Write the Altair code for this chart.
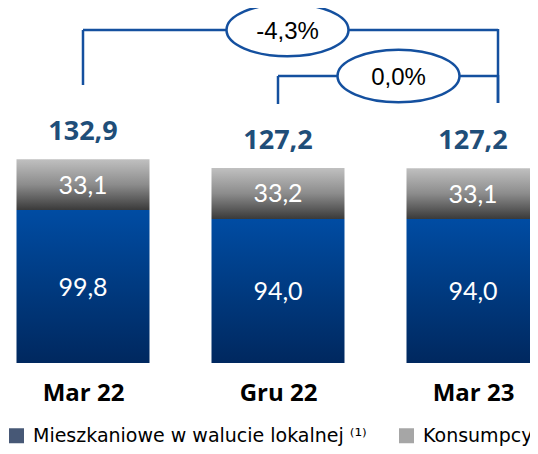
import altair as alt
import pandas as pd

# ---- data ----
categories = ["Mar 22", "Gru 22", "Mar 23"]
mortgage = [99.8, 94.0, 94.0]
consumer = [33.1, 33.2, 33.1]
totals = [132.9, 127.2, 127.2]
series = ["Mieszkaniowe w walucie lokalnej \u207d\u00b9\u207e", "Konsumpcyjne"]
legend_colors = ["#475876", "#a6a6a6"]
cmp_from = ["Mar 22", "Gru 22"]
cmp_to = ["Mar 23", "Mar 23"]
cmp_labels = ["-4,3%", "0,0%"]

df = pd.DataFrame({
    "cat": categories,
    "idx": list(range(len(categories))),
    "mortgage": mortgage,
    "consumer": consumer,
    "total": totals,
})

fmt = "replace(format({v}, '.1f'), '.', ',')"

xscale = alt.Scale(domain=[-0.3846, 2.2923], nice=False, zero=False, padding=0)
yscale = alt.Scale(domain=[0, 231.6], nice=False, zero=True, padding=0)

label_expr = "[" + ",".join("'%s'" % c for c in categories) + "][datum.value]"
xaxis = alt.Axis(values=list(range(len(categories))), labelExpr=label_expr, title=None,
                 domain=False, ticks=False, tickSize=0, grid=False, labelFlush=False,
                 labelOverlap=False, labelFont="Open Sans", labelFontWeight="bold",
                 labelFontSize=24, labelColor="black", labelPadding=18)

blue_grad = alt.Gradient(gradient="linear", x1=0, x2=0, y1=0, y2=1,
                         stops=[alt.GradientStop(color="#004ca3", offset=0),
                                alt.GradientStop(color="#003a80", offset=0.5),
                                alt.GradientStop(color="#00285f", offset=1)])
gray_grad = alt.Gradient(gradient="linear", x1=0, x2=0, y1=0, y2=1,
                         stops=[alt.GradientStop(color="#c0c0c0", offset=0),
                                alt.GradientStop(color="#8c8c8c", offset=0.5),
                                alt.GradientStop(color="#3a3a3a", offset=1)])

base = alt.Chart(df).transform_calculate(
    top="datum.mortgage + datum.consumer",
    mid_m="datum.mortgage / 2",
    mid_c="datum.mortgage + datum.consumer / 2",
    lab_m=fmt.format(v="datum.mortgage"),
    lab_c=fmt.format(v="datum.consumer"),
    lab_t=fmt.format(v="datum.total"),
)

X = alt.X("idx:Q", scale=xscale, axis=xaxis)

blue = base.mark_bar(width=133, fill=blue_grad, opacity=1, orient="vertical").encode(
    x=X, y=alt.Y("mortgage:Q", scale=yscale, axis=None), y2=alt.datum(0))
gray = base.mark_bar(width=133, fill=gray_grad, opacity=1, orient="vertical").encode(
    x=X, y=alt.Y("top:Q", scale=yscale, axis=None), y2="mortgage:Q")

seg_font = dict(font="Lato", fontSize=25, color="white", baseline="middle", align="center")
lab_m = base.mark_text(dy=1, **seg_font).encode(x=X, y=alt.Y("mid_m:Q", scale=yscale), text="lab_m:N")
lab_c = base.mark_text(dy=1, **seg_font).encode(x=X, y=alt.Y("mid_c:Q", scale=yscale), text="lab_c:N")
lab_t = base.mark_text(font="Open Sans", fontWeight="bold", fontSize=27, color="#1f4e79",
                       baseline="alphabetic", align="center", dy=-19).encode(
    x=X, y=alt.Y("top:Q", scale=yscale), text="lab_t:N")

# ---- comparison brackets ----
line_color = "#14509f"
level_y = [22, 68]      # pixel rows of the horizontal bracket lines
drop_y = [77, 96]       # bottom of the left drop lines
ell_shift = [9.5, 23]   # horizontal nudge of each ellipse label
right_bottom = 95
right_off = 25
layers = [blue, gray, lab_m, lab_c, lab_t]
for i in range(len(cmp_from)):
    cdf = pd.DataFrame({"from_idx": [categories.index(cmp_from[i])],
                        "to_idx": [categories.index(cmp_to[i])],
                        "label": [cmp_labels[i]]})
    cb = alt.Chart(cdf).transform_calculate(mid="(datum.from_idx + datum.to_idx) / 2")
    h = cb.mark_rule(color=line_color, strokeWidth=2.5, x2Offset=right_off).encode(
        x=alt.X("from_idx:Q", scale=xscale), x2="to_idx:Q", y=alt.value(level_y[i]))
    vl = cb.mark_rule(color=line_color, strokeWidth=2.5).encode(
        x=alt.X("from_idx:Q", scale=xscale), y=alt.value(level_y[i]), y2=alt.value(drop_y[i]))
    vr = cb.mark_rule(color=line_color, strokeWidth=2.5, xOffset=right_off).encode(
        x=alt.X("to_idx:Q", scale=xscale), y=alt.value(level_y[i] - 1), y2=alt.value(right_bottom))
    ell = cb.mark_point(shape="M-1,0A1,0.43,0,1,1,1,0A1,0.43,0,1,1,-1,0Z", filled=False,
                        fill="white", fillOpacity=1, stroke=line_color, strokeWidth=2.5,
                        size=122 * 122, opacity=1, xOffset=ell_shift[i]).encode(
        x=alt.X("mid:Q", scale=xscale), y=alt.value(level_y[i]))
    txt = cb.mark_text(font="Liberation Sans", fontSize=24, color="black", baseline="middle",
                       align="center", xOffset=ell_shift[i], dy=2).encode(
        x=alt.X("mid:Q", scale=xscale), y=alt.value(level_y[i]), text="label:N")
    layers += [h, vl, vr, ell, txt]

# ---- legend ----
ldf = pd.DataFrame({"series": series})
legend_layer = alt.Chart(ldf).transform_filter("false").mark_square(opacity=1, filled=True).encode(
    color=alt.Color("series:N", scale=alt.Scale(domain=series, range=legend_colors),
                    legend=alt.Legend(orient="none", legendX=-1, legendY=418, direction="horizontal",
                                      title=None, symbolType="square", symbolSize=225,
                                      symbolStrokeWidth=0, symbolOpacity=1,
                                      labelFont="DejaVu Sans", labelFontSize=19, labelColor="black",
                                      labelOffset=7, columnPadding=30, labelLimit=600, padding=0)))
layers.append(legend_layer)

chart = alt.layer(*layers).properties(
    width=522, height=355,
    autosize=alt.AutoSizeParams(type="none"),
    padding={"left": 0, "right": 0, "top": 0, "bottom": 83},
).configure_view(stroke=None)

chart.save("out.html", embed_options={"renderer": "svg", "actions": False})
